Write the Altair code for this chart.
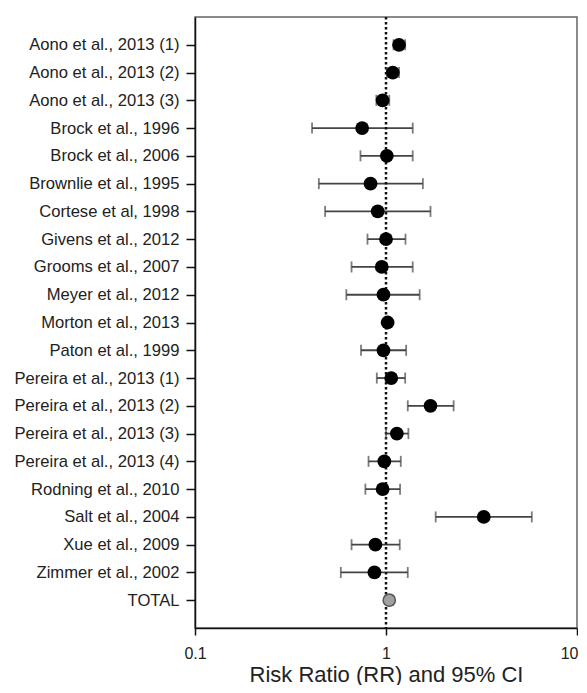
import altair as alt
import pandas as pd

studies = [
    "Aono et al., 2013 (1)", "Aono et al., 2013 (2)", "Aono et al., 2013 (3)",
    "Brock et al., 1996", "Brock et al., 2006", "Brownlie et al., 1995",
    "Cortese et al, 1998", "Givens et al., 2012", "Grooms et al., 2007",
    "Meyer et al., 2012", "Morton et al., 2013", "Paton et al., 1999",
    "Pereira et al., 2013 (1)", "Pereira et al., 2013 (2)", "Pereira et al., 2013 (3)",
    "Pereira et al., 2013 (4)", "Rodning et al., 2010", "Salt et al., 2004",
    "Xue et al., 2009", "Zimmer et al., 2002", "TOTAL",
]
rr = [1.17, 1.085, 0.96, 0.75, 1.01, 0.83, 0.905, 1.0, 0.95, 0.97, 1.02, 0.97,
      1.065, 1.71, 1.14, 0.98, 0.96, 3.25, 0.88, 0.87, 1.04]
ci_low = [1.095, 1.01, 0.89, 0.41, 0.735, 0.445, 0.48, 0.80, 0.66, 0.62, 0.99, 0.74,
          0.895, 1.30, 1.0, 0.81, 0.78, 1.82, 0.66, 0.58, 1.0]
ci_high = [1.26, 1.17, 1.04, 1.38, 1.38, 1.56, 1.71, 1.265, 1.38, 1.50, 1.06, 1.275,
           1.26, 2.26, 1.31, 1.195, 1.185, 5.8, 1.18, 1.30, 1.09]
kind = ["study"] * 20 + ["total"]
x_ticks = [0.1, 1, 10]

df = pd.DataFrame({"study": studies, "rr": rr, "lo": ci_low, "hi": ci_high, "kind": kind})
ref = pd.DataFrame({"x": [1.0]})

xscale = alt.Scale(type="log", domain=[0.1, 10], nice=False)
yscale = alt.Scale(type="point", padding=1)

y_enc = alt.Y("study:N", sort=studies, scale=yscale,
              axis=alt.Axis(title=None, tickSize=9, labelPadding=7, labelFontSize=16.6,
                            minExtent=184, maxExtent=184, domainColor="#111",
                            tickColor="#111", labelColor="#222", domainWidth=1.5,
                            tickWidth=1.5))
x_axis = alt.Axis(values=x_ticks, format="~g", title="Risk Ratio (RR) and 95% CI",
                  tickSize=7, labelPadding=10, labelFontSize=16, titleFontSize=22,
                  titleFontWeight="normal", titlePadding=3, domainColor="#111",
                  tickColor="#111", labelColor="#222", titleColor="#222",
                  domainWidth=1.5, tickWidth=1.5, grid=False, labelFlush=False,
                  labelAlign={"condition": {"test": "datum.value >= 10", "value": "right"},
                              "value": "center"},
                  labelOffset={"condition": {"test": "datum.value >= 10", "value": 1},
                               "value": 0})

base = alt.Chart(df)

refline = alt.Chart(ref).mark_rule(color="#111", strokeWidth=2.5, strokeDash=[2.5, 2.5]).encode(
    x=alt.X("x:Q", scale=xscale, axis=x_axis)
)

bars = base.mark_rule(color="#444", strokeWidth=1.8).encode(
    x=alt.X("lo:Q", scale=xscale, axis=x_axis), x2="hi:Q", y=y_enc
)
cap_lo = base.mark_tick(color="#444", size=11, thickness=1.8, orient="vertical").encode(
    x=alt.X("lo:Q", scale=xscale), y=alt.Y("study:N", sort=studies, scale=yscale)
)
cap_hi = base.mark_tick(color="#444", size=11, thickness=1.8, orient="vertical").encode(
    x=alt.X("hi:Q", scale=xscale), y=alt.Y("study:N", sort=studies, scale=yscale)
)
points = base.transform_filter(alt.datum.kind == "study").mark_point(
    filled=True, color="#000", size=190, opacity=1
).encode(
    x=alt.X("rr:Q", scale=xscale), y=alt.Y("study:N", sort=studies, scale=yscale)
)
total = base.transform_filter(alt.datum.kind == "total").mark_point(
    filled=True, fill="#a0a0a0", stroke="#555", strokeWidth=1.5, size=150, opacity=1,
    shape="circle"
).encode(
    x=alt.X("rr:Q", scale=xscale), y=alt.Y("study:N", sort=studies, scale=yscale)
)

chart = alt.layer(bars, refline, cap_lo, cap_hi, points, total).properties(
    width=382, height=611,
    padding={"left": 3, "top": 7, "right": 0, "bottom": 0},
).configure_view(stroke="#666", strokeWidth=1.5).configure_axis(
    labelFont="Liberation Sans", titleFont="Liberation Sans"
)

chart.save("out.html", embed_options={"renderer": "svg", "actions": False})
